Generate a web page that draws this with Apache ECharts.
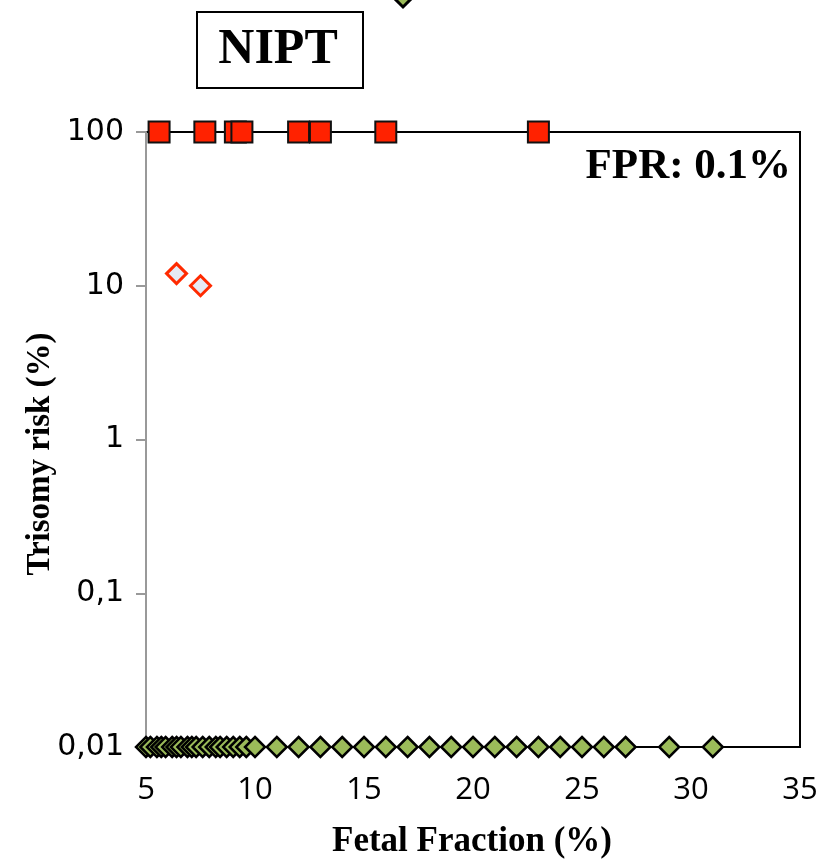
<!DOCTYPE html>
<html>
<head>
<meta charset="utf-8">
<script src="https://cdn.jsdelivr.net/npm/echarts@6/dist/echarts.min.js"></script>
<style>
  html, body { margin: 0; padding: 0; background: #fff; }
  #main { width: 836px; height: 861px; }
</style>
</head>
<body>
<div id="main"></div>
<script>
// 数据：胎儿分数 (x) 与三体风险 (y)
const xTicks = [5, 10, 15, 20, 25, 30, 35];
const yTicks = [0.01, 0.1, 1, 10, 100];

// 阳性（红色方块，风险 100%）
const posFF = [5.6, 7.7, 9.1, 9.4, 12.0, 13.0, 16.0, 23.0];
const posRisk = [100, 100, 100, 100, 100, 100, 100, 100];

// 中间风险（红色空心菱形）
const midFF = [6.4, 7.5];
const midRisk = [12, 10];

// 阴性（绿色菱形，风险 0.01%）
const negFF = [5.0, 5.2, 5.5, 5.7, 5.9, 6.2, 6.4, 6.6, 6.9, 7.1, 7.3, 7.6, 7.9, 8.2, 8.4, 8.7, 9.0, 9.3, 9.6, 10.0,
  11, 12, 13, 14, 15, 16, 17, 18, 19, 20, 21, 22, 23, 24, 25, 26, 27, 29, 31];
const negRisk = negFF.map(() => 0.01);

const pair = (xs, ys) => xs.map((x, i) => [x, ys[i]]);

const myChart = echarts.init(document.getElementById('main'));
const serif = '"Liberation Serif", "DejaVu Serif", serif';

const option = {
  backgroundColor: '#fff',
  animation: false,
  grid: {
    left: 146, right: 36, top: 132, bottom: 114,
    show: true,
    borderColor: '#000',
    borderWidth: 2
  },
  xAxis: {
    type: 'value',
    min: xTicks[0],
    max: xTicks[xTicks.length - 1],
    interval: 5,
    splitLine: { show: false },
    axisTick: { show: false },
    axisLine: { show: true, onZero: false, lineStyle: { color: '#000', width: 2 } },
    axisLabel: {
      margin: 28,
      color: '#000',
      fontSize: 31,
      fontFamily: '"Open Sans", sans-serif'
    }
  },
  yAxis: {
    type: 'log',
    logBase: 10,
    min: yTicks[0],
    max: yTicks[yTicks.length - 1],
    splitLine: { show: false },
    axisLine: { show: true, lineStyle: { color: '#999', width: 2 } },
    axisTick: { show: true, length: 10, lineStyle: { color: '#999', width: 2 } },
    axisLabel: {
      margin: 22,
      color: '#000',
      fontSize: 30,
      fontFamily: '"DejaVu Sans", sans-serif',
      formatter: v => String(v).replace('.', ',')
    }
  },
  graphic: [
    {
      type: 'rect',
      shape: { x: 197, y: 12, width: 166, height: 76 },
      style: { fill: '#fff', stroke: '#000', lineWidth: 2 }
    },
    {
      type: 'text',
      x: 278, y: 50,
      style: { text: 'NIPT', font: 'bold 50px ' + serif, fill: '#000', align: 'center', verticalAlign: 'middle' }
    },
    {
      type: 'text',
      x: 791, y: 167,
      style: { text: 'FPR: 0.1%', font: 'bold 43px ' + serif, fill: '#000', align: 'right', verticalAlign: 'middle' }
    },
    {
      // 坐标轴标题
      type: 'text',
      x: 472, y: 842,
      style: { text: 'Fetal Fraction (%)', font: 'bold 35px ' + serif, fill: '#000', align: 'center', verticalAlign: 'middle' }
    },
    {
      type: 'text',
      x: 40, y: 454,
      rotation: Math.PI / 2,
      style: { text: 'Trisomy risk (%)', font: 'bold 33px ' + serif, fill: '#000', align: 'center', verticalAlign: 'middle' }
    },
    {
      // 被裁掉的图例标记
      type: 'polygon',
      shape: { points: [[392, -4], [403, -15], [414, -4], [403, 7]] },
      style: { fill: '#9bbb59', stroke: '#000', lineWidth: 3 }
    }
  ],
  series: [
    {
      name: 'Negative',
      type: 'scatter',
      clip: false,
      symbol: 'diamond',
      symbolSize: 20,
      data: pair(negFF, negRisk),
      itemStyle: { color: '#9bbb59', borderColor: '#000', borderWidth: 2.5, opacity: 1 },
      z: 3
    },
    {
      name: 'Intermediate',
      type: 'scatter',
      clip: false,
      symbol: 'diamond',
      symbolSize: 20,
      data: pair(midFF, midRisk),
      itemStyle: { color: '#e6eaf4', borderColor: '#ff2a00', borderWidth: 3, opacity: 1 },
      z: 4
    },
    {
      name: 'Positive',
      type: 'scatter',
      clip: false,
      symbol: 'rect',
      symbolSize: 21,
      data: pair(posFF, posRisk),
      itemStyle: { color: '#ff2200', borderColor: '#111', borderWidth: 2, opacity: 1 },
      z: 5
    }
  ]
};

myChart.setOption(option);
window.addEventListener('resize', function () {
  myChart.resize();
});
</script>
</body>
</html>
